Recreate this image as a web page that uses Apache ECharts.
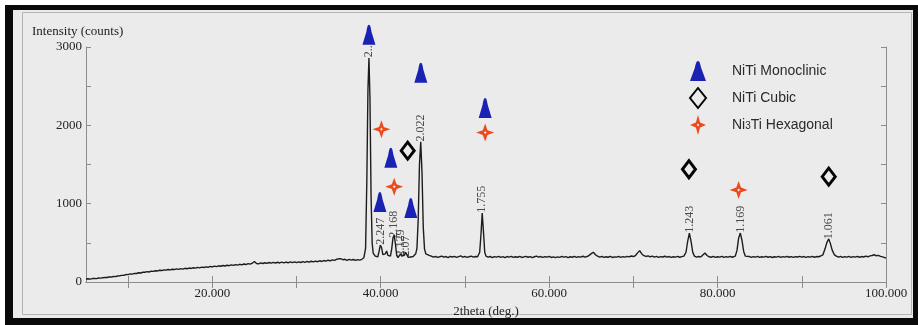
<!DOCTYPE html>
<html>
<head>
<meta charset="utf-8">
<script src="https://cdn.jsdelivr.net/npm/echarts@6/dist/echarts.min.js"></script>
<style>
  html, body { margin: 0; padding: 0; background: #ffffff; }
  #chart { width: 918px; height: 325px; }
</style>
</head>
<body>
<div id="chart"></div>
<script>
// ---- data ----
var xTickValues = [10, 20, 30, 40, 50, 60, 70, 80, 90, 100];
var xLabelValues = [20, 40, 60, 80, 100];
var yLabelValues = [0, 1000, 2000, 3000];

// XRD trace: [2theta, intensity]
var trace = [
[5.00,38],[5.25,41],[5.50,37],[5.75,44],[6.00,46],[6.25,43],[6.50,51],[6.75,49],[7.00,55],[7.25,58],[7.50,57],[7.75,64],
[8.00,63],[8.25,70],[8.50,68],[8.75,77],[9.00,79],[9.25,84],[9.50,86],[9.75,95],[10.00,94],[10.25,103],[10.50,101],[10.75,110],
[11.00,109],[11.25,118],[11.50,115],[11.75,124],[12.00,125],[12.25,132],[12.50,128],[12.75,138],[13.00,136],[13.25,143],[13.50,141],[13.75,150],
[14.00,146],[14.25,155],[14.50,151],[14.75,159],[15.00,155],[15.25,163],[15.50,159],[15.75,168],[16.00,162],[16.25,171],[16.50,165],[16.75,175],
[17.00,169],[17.25,178],[17.50,173],[17.75,182],[18.00,177],[18.25,186],[18.50,180],[18.75,190],[19.00,185],[19.25,193],[19.50,188],[19.75,199],
[20.00,192],[20.25,203],[20.50,197],[20.75,207],[21.00,201],[21.25,211],[21.50,204],[21.75,214],[22.00,208],[22.25,218],[22.50,212],[22.75,222],
[23.00,216],[23.25,226],[23.50,219],[23.75,230],[24.00,223],[24.25,234],[24.50,228],[24.75,240],[25.00,262],[25.25,236],[25.50,231],[25.75,243],
[26.00,236],[26.25,246],[26.50,238],[26.75,249],[27.00,240],[27.25,250],[27.50,242],[27.75,252],[28.00,243],[28.25,253],[28.50,244],[28.75,255],
[29.00,245],[29.25,256],[29.50,247],[29.75,258],[30.00,248],[30.25,257],[30.50,249],[30.75,260],[31.00,251],[31.25,262],[31.50,253],[31.75,265],
[32.00,256],[32.25,267],[32.50,259],[32.75,271],[33.00,262],[33.25,274],[33.50,266],[33.75,278],[34.00,270],[34.25,282],[34.50,276],[34.75,290],
[35.00,296],[35.25,298],[35.50,284],[35.75,290],[36.00,277],[36.25,288],[36.50,279],[36.75,287],[37.00,276],[37.25,286],[37.50,279],[37.75,290],
[38.00,310],[38.20,430],[38.35,1300],[38.48,2450],[38.60,2860],[38.72,2350],[38.85,1100],[38.98,500],[39.10,370],[39.22,390],[39.35,330],[39.50,340],
[39.65,320],[39.80,390],[39.95,470],[40.10,440],[40.25,350],[40.40,325],[40.55,360],[40.70,395],[40.85,340],[41.00,315],[41.15,330],[41.30,420],
[41.45,560],[41.60,600],[41.75,480],[41.90,340],[42.05,310],[42.20,330],[42.35,360],[42.50,330],[42.65,305],[42.80,340],[42.95,380],[43.10,350],
[43.25,315],[43.40,300],[43.55,320],[43.70,335],[43.85,325],[44.00,340],[44.15,360],[44.30,430],[44.45,800],[44.60,1500],[44.75,1790],[44.90,1400],
[45.05,700],[45.20,420],[45.35,360],[45.50,375],[45.75,340],[46.00,330],[46.25,318],[46.50,326],[46.75,314],[47.00,322],[47.25,331],[47.50,317],
[47.75,325],[48.00,312],[48.25,328],[48.50,319],[48.75,327],[49.00,315],[49.25,324],[49.50,333],[49.75,318],[50.00,326],[50.25,314],[50.50,323],
[50.75,330],[51.00,318],[51.25,326],[51.50,322],[51.75,380],[51.90,600],[52.05,880],[52.20,640],[52.35,380],[52.50,330],[52.75,318],[53.00,326],
[53.25,312],[53.50,324],[53.75,317],[54.00,328],[54.25,315],[54.50,323],[54.75,311],[55.00,325],[55.25,318],[55.50,327],[55.75,314],[56.00,322],
[56.25,316],[56.50,326],[56.75,313],[57.00,321],[57.25,328],[57.50,316],[57.75,324],[58.00,312],[58.25,322],[58.50,330],[58.75,318],[59.00,325],
[59.25,314],[59.50,323],[59.75,317],[60.00,327],[60.25,313],[60.50,321],[60.75,311],[61.00,320],[61.25,315],[61.50,326],[61.75,318],[62.00,324],
[62.25,312],[62.50,322],[62.75,316],[63.00,327],[63.25,315],[63.50,323],[63.75,318],[64.00,329],[64.25,317],[64.50,325],[64.75,340],[65.00,362],
[65.25,380],[65.50,348],[65.75,330],[66.00,318],[66.25,326],[66.50,314],[66.75,322],[67.00,316],[67.25,327],[67.50,313],[67.75,321],[68.00,317],
[68.25,326],[68.50,314],[68.75,323],[69.00,318],[69.25,328],[69.50,320],[69.75,332],[70.00,325],[70.25,338],[70.50,372],[70.75,400],[71.00,358],
[71.25,336],[71.50,326],[71.75,334],[72.00,322],[72.25,330],[72.50,318],[72.75,327],[73.00,315],[73.25,324],[73.50,319],[73.75,329],[74.00,317],
[74.25,325],[74.50,314],[74.75,322],[75.00,318],[75.25,327],[75.50,316],[75.75,324],[76.00,330],[76.25,380],[76.45,520],[76.65,625],[76.85,520],
[77.05,380],[77.25,330],[77.50,318],[77.75,326],[78.00,320],[78.25,345],[78.50,370],[78.75,338],[79.00,322],[79.25,316],[79.50,326],[79.75,314],
[80.00,322],[80.25,317],[80.50,327],[80.75,315],[81.00,323],[81.25,318],[81.50,328],[81.75,316],[82.10,330],[82.30,400],[82.50,560],[82.70,625],
[82.90,530],[83.10,390],[83.30,330],[83.50,318],[83.75,326],[84.00,314],[84.25,323],[84.50,317],[84.75,327],[85.00,315],[85.25,322],[85.50,318],
[85.75,328],[86.00,316],[86.25,324],[86.50,313],[86.75,322],[87.00,317],[87.25,327],[87.50,315],[87.75,324],[88.00,318],[88.25,328],[88.50,316],
[88.75,325],[89.00,314],[89.25,323],[89.50,319],[89.75,328],[90.00,317],[90.25,325],[90.50,315],[90.75,323],[91.00,318],[91.25,328],[91.50,316],
[91.75,325],[92.00,322],[92.25,332],[92.50,345],[92.75,420],[93.00,510],[93.20,550],[93.40,490],[93.60,410],[93.85,350],[94.10,330],[94.35,318],
[94.60,326],[94.85,314],[95.10,323],[95.35,317],[95.60,327],[95.85,315],[96.10,324],[96.35,318],[96.60,328],[96.85,316],[97.10,325],[97.35,319],
[97.60,330],[97.85,322],[98.10,333],[98.35,338],[98.60,348],[98.85,335],[99.10,340],[99.35,328],[99.60,320],[99.85,312],[100.00,305]
];

// phase marker positions [2theta, intensity]
var monoclinic = [[38.6,3155],[44.76,2670],[52.4,2222],[39.9,1020],[41.2,1585],[43.57,945]];
var cubic = [[43.2,1677],[76.6,1439],[93.2,1345]];
var hexagonal = [[40.08,1950],[41.6,1217],[52.4,1907],[82.5,1175]];

// d-spacing peak labels [2theta, intensity, text]
var peakLabels = [
  [38.6,2870,'2..'],[40.0,475,'2.247'],[41.55,565,'2.168'],[42.38,325,'2.129'],[42.98,325,'2.07'],
  [44.8,1795,'2.022'],[52.05,885,'1.755'],[76.67,630,'1.243'],[82.8,630,'1.169'],[93.25,545,'1.061']
];

var seriesNames = ['NiTi Monoclinic', 'NiTi Cubic', 'Ni3Ti Hexagonal'];

// ---- chart ----
var serif = 'Liberation Serif, Times New Roman, serif';
var sans = 'Liberation Sans, Arial, sans-serif';
var axisGray = '#8c8c8c';
var triPath = 'path://M50 0 C60 0 64 18 68 34 L96 100 L4 100 L32 34 C36 18 40 0 50 0 Z';
var diaPath = 'path://M50 4 L94 50 L50 96 L6 50 Z';
var starPath = 'path://M50 0 L63 37 L100 50 L63 63 L50 100 L37 63 L0 50 L37 37 Z M42 50 L50 58 L58 50 L50 42 Z';

var chart = echarts.init(document.getElementById('chart'), null, {renderer: 'canvas'});
chart.setOption({
  backgroundColor: '#ffffff',
  animation: false,
  graphic: [
    {type: 'rect', z: -100, shape: {x: 5, y: 5, width: 913, height: 320}, style: {fill: '#0a0a0a'}},
    {type: 'rect', z: -99, shape: {x: 13, y: 10, width: 900, height: 308}, style: {fill: '#ebebeb'}},
    {type: 'rect', z: -98, shape: {x: 22.5, y: 12.5, width: 889, height: 302}, style: {fill: 'none', stroke: '#b5b5b5', lineWidth: 1}}
  ],
  title: {
    text: 'Intensity (counts)',
    left: 27, top: 20,
    textStyle: {fontFamily: serif, fontSize: 13, fontWeight: 'normal', color: '#222'}
  },
  legend: {
    data: [
      {name: seriesNames[0], icon: triPath},
      {name: seriesNames[1], icon: diaPath},
      {name: seriesNames[2], icon: starPath}
    ],
    orient: 'vertical',
    left: 684, top: 56,
    itemWidth: 16, itemHeight: 20, itemGap: 6,
    symbolKeepAspect: false,
    textStyle: {
      fontFamily: sans, fontSize: 14, color: '#2a2a2a', padding: [0, 0, 0, 21],
      rich: {sub: {fontFamily: sans, fontSize: 10, color: '#2a2a2a', padding: [3, 0, 0, 0]}}
    },
    formatter: function (name) {
      return name === 'Ni3Ti Hexagonal' ? 'Ni{sub|3}Ti Hexagonal' : name;
    }
  },
  grid: {left: 86, right: 32, top: 47, bottom: 43},
  xAxis: [
    {
      type: 'value', position: 'bottom', min: 5, max: 100,
      name: '2theta (deg.)', nameLocation: 'middle', nameGap: 19,
      nameTextStyle: {fontFamily: serif, fontSize: 13, color: '#222'},
      axisLine: {show: true, lineStyle: {color: axisGray, width: 1}},
      axisTick: {show: true, inside: true, length: 6, customValues: xTickValues, lineStyle: {color: axisGray}},
      axisLabel: {customValues: xLabelValues, margin: 5, fontFamily: serif, fontSize: 13, color: '#222',
        formatter: function (v) { return v.toFixed(3); }},
      splitLine: {show: false}
    },
    {
      type: 'value', position: 'top', min: 5, max: 100,
      axisLine: {show: true, lineStyle: {color: axisGray, width: 1}},
      axisTick: {show: true, inside: true, length: 6, customValues: xTickValues, lineStyle: {color: axisGray}},
      axisLabel: {show: false},
      splitLine: {show: false}
    }
  ],
  yAxis: [
    {
      type: 'value', position: 'left', min: 0, max: 3000, interval: 500,
      axisLine: {show: true, lineStyle: {color: axisGray, width: 1}},
      axisTick: {show: true, inside: true, length: 5, lineStyle: {color: axisGray}},
      axisLabel: {customValues: yLabelValues, margin: 4, fontFamily: serif, fontSize: 13, color: '#222',
        formatter: function (v) { return String(v); }},
      splitLine: {show: false}
    },
    {
      type: 'value', position: 'right', min: 0, max: 3000, interval: 500,
      axisLine: {show: true, lineStyle: {color: axisGray, width: 1}},
      axisTick: {show: true, inside: true, length: 5, lineStyle: {color: axisGray}},
      axisLabel: {show: false},
      splitLine: {show: false}
    }
  ],
  series: [
    {
      name: 'XRD', type: 'line', data: trace, xAxisIndex: 0, yAxisIndex: 0,
      showSymbol: false, symbol: 'none', silent: true, z: 3,
      lineStyle: {color: '#1c1c1c', width: 1.4}
    },
    {
      name: 'peaks', type: 'scatter', xAxisIndex: 0, yAxisIndex: 0, symbolSize: 0, silent: true, z: 4,
      data: peakLabels.map(function (p) { return {value: [p[0], p[1]], label: {formatter: p[2]}}; }),
      label: {
        show: true, position: [0, 0], rotate: 90, align: 'left', verticalAlign: 'middle', distance: 0,
        fontFamily: serif, fontSize: 12, color: '#222'
      }
    },
    {
      name: seriesNames[0], type: 'scatter', data: monoclinic, clip: false, z: 6,
      symbol: triPath, symbolSize: [13, 20],
      itemStyle: {color: '#1a22b4', opacity: 1}
    },
    {
      name: seriesNames[1], type: 'scatter', data: cubic, clip: false, z: 6,
      symbol: diaPath, symbolSize: [13, 17],
      itemStyle: {color: 'rgba(0,0,0,0)', borderColor: '#050505', borderWidth: 3, opacity: 1}
    },
    {
      name: seriesNames[2], type: 'scatter', data: hexagonal, clip: false, z: 6,
      symbol: starPath, symbolSize: [18, 18],
      itemStyle: {color: '#ec4a1c', opacity: 1}
    }
  ]
});
</script>
</body>
</html>
